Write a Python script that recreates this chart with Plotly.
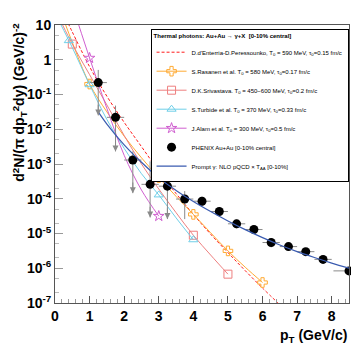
import numpy as np
import plotly.graph_objects as go

# ---------------- data ----------------
# PHENIX Au+Au 0-10% central
phenix_pt = [1.25, 1.75, 2.25, 2.75, 3.25, 3.75, 4.25, 4.75, 5.25, 5.75, 6.25, 6.75, 7.25, 7.75, 8.5]
phenix_y = [0.22, 0.022, 1.3e-3, 2.6e-4, 2.3e-4, 9.8e-5, 8.5e-5, 4.3e-5, 1.9e-5, 1.3e-5,
            5.5e-6, 4.2e-6, 3.0e-6, 1.8e-6, 8.4e-7]
phenix_hi = [0.51, 0.048, 2.3e-3, 1.2e-3, 4.9e-4, 1.66e-4, 1.15e-4, 5.8e-5, 2.5e-5, 1.7e-5,
             7.3e-6, 5.4e-6, 3.8e-6, 2.3e-6, 1.05e-6]
phenix_lo = [0.025, 2.3e-3, 1.45e-4, 2.9e-5, 2.6e-5, 2.6e-5, 6.2e-5, 3.1e-5, 1.4e-5, 1.0e-5,
             4.0e-6, 3.2e-6, 2.3e-6, 1.4e-6, 6.7e-7]
phenix_dx_lo = [0.25] * 14 + [0.45]
phenix_dx_hi = [0.25] * 14 + [0.0]
limit_pt = [1.25, 1.75, 2.25, 2.75, 3.25]          # points drawn with a down arrow
limit_tip = [0.025, 2.3e-3, 1.45e-4, 2.9e-5, 2.6e-5]

# D.d'Enterria - D.Peressounko
dent_pt = [0.38, 0.5, 1.0, 1.5, 2.0, 2.5, 3.0, 3.5, 4.0, 4.5, 5.0, 5.5, 6.0, 6.5]
dent_y = [11.2, 6.31, 0.631, 0.0891, 0.0158, 3.16e-3, 6.31e-4, 1.41e-4, 3.55e-5, 9.55e-6,
          2.82e-6, 8.51e-7, 2.69e-7, 8.91e-8]

# S.Rasanen et al.
ras_pt = [0.29, 0.5, 1.0, 1.5, 2.0, 2.5, 3.0, 3.5, 4.0, 4.5, 5.0, 5.5, 6.0]
ras_y = [11.2, 3.16, 0.2, 0.0316, 6.31e-3, 1.51e-3, 4.07e-4, 1.17e-4, 3.55e-5, 1.05e-5,
         3.16e-6, 1.07e-6, 3.89e-7]
ras_mk_pt = [1.0, 3.0, 4.0, 5.0, 6.0]
ras_mk_y = [0.2, 4.07e-4, 3.55e-5, 3.16e-6, 3.89e-7]

# D.K.Srivastava
sri_pt = [0.22, 0.5, 1.0, 1.5, 2.0, 2.5, 3.0, 3.5, 4.0, 4.5, 5.0]
sri_y = [10.0, 2.82, 0.372, 0.0501, 6.61e-3, 1.0e-3, 1.91e-4, 3.98e-5, 8.91e-6, 2.4e-6, 6.76e-7]
sri_mk_pt = [0.5, 4.0, 5.0]
sri_mk_y = [2.82, 8.91e-6, 6.76e-7]

# S.Turbide et al.
tur_pt = [0.15, 0.5, 1.0, 1.5, 2.0, 2.5, 3.0, 3.5, 4.0]
tur_y = [11.2, 2.24, 0.191, 0.0191, 2.82e-3, 5.25e-4, 1.29e-4, 2.82e-5, 6.61e-6]
tur_mk_pt = [0.4, 1.0, 3.0, 4.0]
tur_mk_y = [3.55, 0.191, 1.29e-4, 6.61e-6]

# J.Alam et al.
alam_pt = [0.67, 1.0, 1.5, 2.0, 2.5, 3.0]
alam_y = [11.2, 1.12, 0.0398, 1.78e-3, 1.78e-4, 3.16e-5]
alam_mk_pt = [1.0, 3.0]
alam_mk_y = [1.12, 3.16e-5]

# Prompt gamma NLO pQCD x T_AA
nlo_pt = [1.25, 1.5, 2.0, 2.5, 3.0, 3.5, 4.0, 4.5, 5.0, 5.5, 6.0, 6.5, 7.0, 7.5, 8.0, 8.5]
nlo_y = [0.0316, 0.0141, 3.55e-3, 1.12e-3, 3.98e-4, 1.74e-4, 8.32e-5, 4.27e-5, 2.29e-5,
         1.29e-5, 7.59e-6, 4.68e-6, 3.02e-6, 2.04e-6, 1.41e-6, 1.0e-6]

y_tickvals = [1e-7, 1e-6, 1e-5, 1e-4, 1e-3, 1e-2, 1e-1, 1, 10]
y_ticktext = ["10<sup>-7</sup>", "10<sup>-6</sup>", "10<sup>-5</sup>", "10<sup>-4</sup>",
              "10<sup>-3</sup>", "10<sup>-2</sup>", "10<sup>-1</sup>", "1", "10"]

FONT = "Liberation Sans, Arial, Helvetica, sans-serif"


def with_gaps(xs, ys):
    # markers only: put None between points so no segments are drawn
    gx, gy = [], []
    for a, b in zip(xs, ys):
        gx += [a, None]
        gy += [b, None]
    return gx[:-1], gy[:-1]


fig = go.Figure()

models = [
    ("D.d'Enterria-D.Peressounko, T<sub>0</sub> = 590 MeV, τ<sub>0</sub>=0.15 fm/c",
     dent_pt, dent_y, None, None, "#ff1a1a", "3px,2px", None),
    ("S.Rasanen et al. T<sub>0</sub> = 580 MeV, τ<sub>0</sub>=0.17 fm/c",
     ras_pt, ras_y, ras_mk_pt, ras_mk_y, "#ffaa33", "solid", "cross-open"),
    ("D.K.Srivastava. T<sub>0</sub> = 450−600 MeV, τ<sub>0</sub>=0.2 fm/c",
     sri_pt, sri_y, sri_mk_pt, sri_mk_y, "#ee7f7f", "solid", "square-open"),
    ("S.Turbide et al. T<sub>0</sub> = 370 MeV, τ<sub>0</sub>=0.33 fm/c",
     tur_pt, tur_y, tur_mk_pt, tur_mk_y, "#6fcfe8", "solid", "triangle-up-open"),
    ("J.Alam et al. T<sub>0</sub> = 300 MeV, τ<sub>0</sub>=0.5 fm/c",
     alam_pt, alam_y, alam_mk_pt, alam_mk_y, "#d05fd0", "solid", "star-open"),
]

for i, (name, px_, py_, mx, my, col, dash, sym) in enumerate(models):
    fig.add_trace(go.Scatter(
        x=px_, y=py_, mode="lines", line=dict(color=col, width=1, dash=dash, shape="spline"),
        name=name, showlegend=(sym is None), legendrank=i + 1, hoverinfo="skip"
    ))
    if sym is not None:
        gx, gy = with_gaps(mx, my)
        fig.add_trace(go.Scatter(
            x=gx, y=gy, mode="lines+markers", connectgaps=False,
            line=dict(color=col, width=1),
            marker=dict(symbol=sym, size=8, color=col, line=dict(width=1, color=col)),
            name=name, legendrank=i + 1, cliponaxis=False
        ))

# PHENIX data
err_up = [h - v for h, v in zip(phenix_hi, phenix_y)]
err_dn = [v - l for l, v in zip(phenix_lo, phenix_y)]
fig.add_trace(go.Scatter(
    x=phenix_pt, y=phenix_y, mode="markers",
    marker=dict(symbol="circle", size=9, color="black"),
    error_y=dict(type="data", symmetric=False, array=err_up, arrayminus=err_dn,
                 color="#8a8a8a", thickness=1, width=0),
    error_x=dict(type="data", symmetric=False, array=phenix_dx_hi, arrayminus=phenix_dx_lo,
                 color="#8a8a8a", thickness=1, width=0),
    name="PHENIX Au+Au [0-10% central]", legendrank=6, cliponaxis=False
))

# prompt photons
fig.add_trace(go.Scatter(
    x=nlo_pt, y=nlo_y, mode="lines", line=dict(color="#3a5bb0", width=1.2, shape="spline"),
    name="Prompt γ: NLO pQCD × T<sub>AA</sub> [0-10%]", legendrank=7
))

# down arrows for the upper limits
for xp, tip in zip(limit_pt, limit_tip):
    fig.add_annotation(
        x=xp, y=np.log10(tip), ax=xp, ay=np.log10(tip) + 0.35,
        xref="x", yref="y", axref="x", ayref="y",
        showarrow=True, arrowhead=2, arrowsize=1.2, arrowwidth=1, arrowcolor="#8a8a8a", text=""
    )

fig.add_annotation(
    x=1.0, y=-0.118, xref="paper", yref="paper", xanchor="right", yanchor="middle",
    text="<b>p<sub>T</sub> (GeV/c)</b>", showarrow=False,
    font=dict(family=FONT, size=14, color="black")
)
# y title is top aligned (ROOT style)
fig.add_annotation(
    x=-0.122, y=1.014, xref="paper", yref="paper", textangle=-90,
    xanchor="center", yanchor="top",
    text="<b>d<sup>2</sup>N/(π dp<sub>T</sub><sup>2</sup>dy) (GeV/c)<sup>-2</sup></b>",
    showarrow=False, font=dict(family=FONT, size=14, color="black")
)

# the page body has an 8px margin, so the figure is a little smaller and shifted
fig.update_layout(
    width=351, height=344,
    margin=dict(l=47, r=9, t=9, b=49),
    plot_bgcolor="white", paper_bgcolor="white",
    font=dict(family=FONT, color="black"),
    showlegend=True,
    legend=dict(
        x=0.325, y=0.986, xanchor="left", yanchor="top",
        bgcolor="white", bordercolor="black", borderwidth=1,
        font=dict(family=FONT, size=6, color="black"),
        title=dict(text="<b>Thermal photons: Au+Au → γ+X  [0-10% central]</b>",
                   font=dict(family=FONT, size=6)),
        tracegroupgap=0, itemwidth=30
    ),
    xaxis=dict(
        range=[0, 8.5], dtick=1, tick0=0, ticks="inside", ticklen=7, tickcolor="#555",
        showgrid=False, zeroline=False, showline=True, linecolor="#555", mirror=True,
        tickfont=dict(family=FONT, size=14, color="black", weight="bold"),
        minor=dict(ticks="inside", ticklen=4, dtick=0.2, tickcolor="#999", showgrid=False)
    ),
    yaxis=dict(
        type="log", range=[-7, 1], tickvals=y_tickvals, ticktext=y_ticktext,
        ticks="inside", ticklen=8, tickcolor="#999",
        showgrid=False, zeroline=False, showline=True, linecolor="#555", mirror=True,
        tickfont=dict(family=FONT, size=14, color="black", weight="bold"),
        minor=dict(ticks="inside", ticklen=4, tickcolor="#bbb", showgrid=False)
    ),
)

fig.write_html("out.html")
